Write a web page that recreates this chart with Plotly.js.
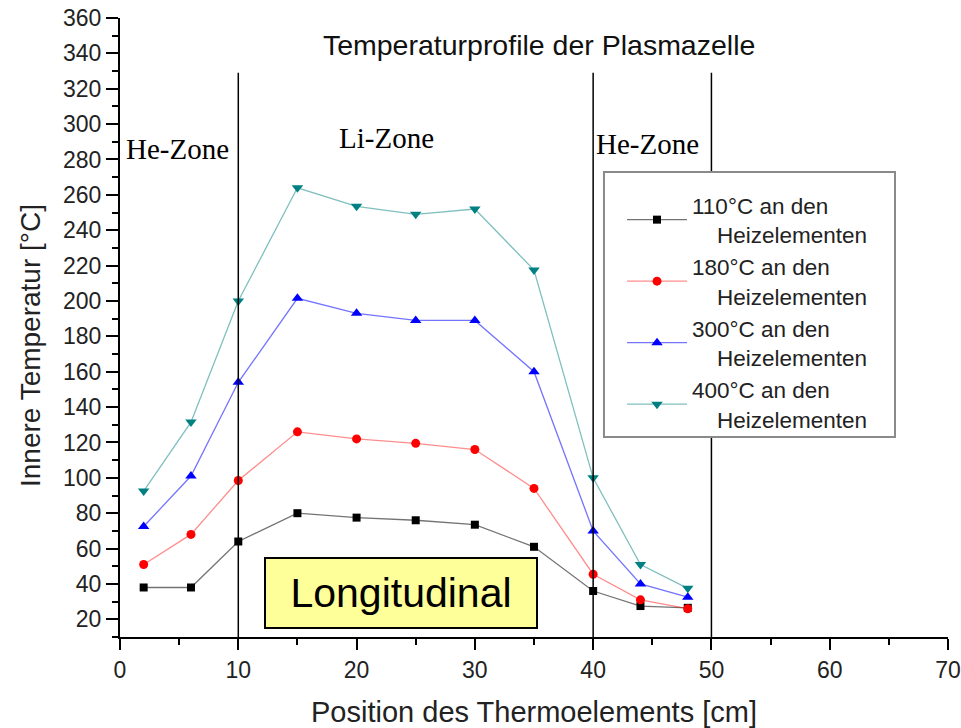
<!DOCTYPE html>
<html>
<head>
<meta charset="utf-8">
<script src="https://cdn.plot.ly/plotly-3.0.1.min.js"></script>
<style>html,body{margin:0;padding:0;background:#fff;}#chart{width:961px;height:728px;}</style>
</head>
<body>
<div id="chart"></div>
<script>
const positions = [2, 6, 10, 15, 20, 25, 30, 35, 40, 44, 48];
const temp110 = [38, 38, 64, 80, 77.5, 76, 73.5, 61, 36, 27.5, 26.5];
const temp180 = [51, 68, 98.5, 126, 122, 119.5, 116, 94, 45.5, 31, 26];
const temp300 = [72.5, 101, 154, 201.5, 193, 189, 189, 160, 70, 40, 32.5];
const temp400 = [92.5, 131.5, 200, 264, 253.5, 249, 252, 217.5, 100, 51, 37.5];
const seriesNames = [
  "110°C an den<br>\u00a0\u00a0\u00a0\u00a0Heizelementen",
  "180°C an den<br>\u00a0\u00a0\u00a0\u00a0Heizelementen",
  "300°C an den<br>\u00a0\u00a0\u00a0\u00a0Heizelementen",
  "400°C an den<br>\u00a0\u00a0\u00a0\u00a0Heizelementen"
];
const zoneBorders = [10, 40, 50];
const zoneLabels = ["He-Zone", "Li-Zone", "He-Zone"];
const zoneLabelX = [4.9, 22.5, 44.6];
const zoneLabelY = [286, 292, 289];
const chartTitle = "Temperaturprofile der Plasmazelle";
const xTitle = "Position des Thermoelements [cm]";
const yTitle = "Innere Temperatur [°C]";
const boxLabel = "Longitudinal";

const styles = [
  {line: 'rgba(0,0,0,0.55)', marker: '#000000', symbol: 'square', size: 8},
  {line: 'rgba(255,0,0,0.45)', marker: '#ff0000', symbol: 'circle', size: 9},
  {line: 'rgba(0,0,255,0.55)', marker: '#0000ff', symbol: 'triangle-up', size: 10},
  {line: 'rgba(0,128,128,0.5)', marker: '#008080', symbol: 'triangle-down', size: 10}
];
const allSeries = [temp110, temp180, temp300, temp400];

const traces = allSeries.map((vals, i) => ({
  x: positions, y: vals, name: seriesNames[i], type: 'scatter', mode: 'lines+markers',
  line: {color: styles[i].line, width: 1.3},
  marker: {color: styles[i].marker, symbol: styles[i].symbol, size: styles[i].size}
}));

const shapes = zoneBorders.map(b => ({
  type: 'line', xref: 'x', yref: 'y', x0: b, x1: b, y0: 10, y1: 329,
  line: {color: '#000', width: 1.5}
}));
// legend frame
shapes.push({
  type: 'rect', xref: 'paper', yref: 'paper', x0: 0.5845, x1: 0.936, y0: 0.3231, y1: 0.7512,
  line: {color: '#8a8a8a', width: 2}, fillcolor: '#fff', layer: 'above'
});

const annotations = zoneLabels.map((t, i) => ({
  text: t, x: zoneLabelX[i], y: zoneLabelY[i], xref: 'x', yref: 'y', showarrow: false,
  font: {family: 'Liberation Serif, Times New Roman, serif', size: 29, color: '#000'}
}));
annotations.push({
  text: boxLabel, x: 23.75, y: 35, xref: 'x', yref: 'y', showarrow: false,
  font: {family: 'Liberation Sans, Arial, sans-serif', size: 41, color: '#000'},
  bgcolor: '#ffff99', bordercolor: '#000', borderwidth: 2, width: 268, height: 66
});
annotations.push({
  text: yTitle, xref: 'paper', yref: 'paper', x: -0.1087, y: 0.4717, textangle: -90,
  showarrow: false, xanchor: 'center', yanchor: 'middle',
  font: {family: 'Liberation Sans, Arial, sans-serif', size: 28, color: '#222'}
});

const layout = {
  width: 961, height: 728,
  margin: {l: 120, r: 13, t: 18, b: 91},
  paper_bgcolor: '#fff', plot_bgcolor: '#fff',
  font: {family: 'Liberation Sans, Arial, sans-serif', color: '#222'},
  title: {text: chartTitle, font: {size: 28.5, color: '#111'}, xref: 'container', yref: 'container', x: 0.561, y: 0.938, xanchor: 'center', yanchor: 'middle'},
  xaxis: {
    range: [0, 70], tick0: 0, dtick: 10, showgrid: false, zeroline: false,
    showline: true, linecolor: '#000', linewidth: 2, ticks: 'outside', ticklen: 11, tickwidth: 2, tickcolor: '#000',
    minor: {dtick: 5, ticks: 'outside', ticklen: 6, tickwidth: 2, tickcolor: '#000', showgrid: false},
    tickfont: {size: 23, color: '#222'},
    title: {text: xTitle, font: {size: 29, color: '#222'}, standoff: 20}
  },
  yaxis: {
    range: [10, 360], tick0: 0, dtick: 20, showgrid: false, zeroline: false,
    showline: true, linecolor: '#000', linewidth: 2, ticks: 'outside', ticklen: 12, tickwidth: 2, tickcolor: '#000',
    minor: {dtick: 10, ticks: 'outside', ticklen: 6, tickwidth: 2, tickcolor: '#000', showgrid: false},
    tickfont: {size: 23, color: '#222'}
  },
  legend: {
    x: 0.6063, y: 0.732, xanchor: 'left', yanchor: 'top',
    bgcolor: 'rgba(0,0,0,0)', borderwidth: 0,
    font: {size: 22.5, color: '#222'}, itemwidth: 60
  },
  showlegend: true,
  shapes: shapes,
  annotations: annotations
};

Plotly.newPlot('chart', traces, layout, {displayModeBar: false, staticPlot: true});
</script>
</body>
</html>
